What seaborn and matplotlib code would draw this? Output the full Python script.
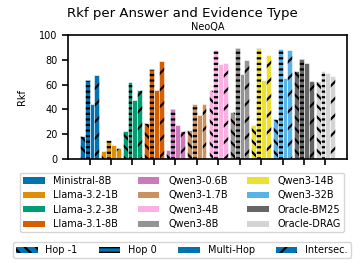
import matplotlib
matplotlib.use('Agg')
import matplotlib.pyplot as plt
import seaborn as sns
import pandas as pd
from matplotlib.patches import Patch
from matplotlib.colors import to_rgba

models = ['Ministral-8B', 'Llama-3.2-1B', 'Llama-3.2-3B', 'Llama-3.1-8B',
          'Qwen3-0.6B', 'Qwen3-1.7B', 'Qwen3-4B', 'Qwen3-8B',
          'Qwen3-14B', 'Qwen3-32B', 'Oracle-BM25', 'Oracle-DRAG']
colors = ['#0173b2', '#de8f05', '#029e73', '#d55e00', '#cc78bc', '#ca9161',
          '#fbafe4', '#949494', '#ece133', '#56b4e9', '#666666', '#d4d4d4']
types = ['Hop -1', 'Hop 0', 'Multi-Hop', 'Intersec.']
hatches = ['\\\\\\', '---', '', '//']

hop_m1 = [18.9, 6.5, 22.9, 29.4, 7.5, 23.7, 56.0, 37.7, 27.8, 32.6, 71.4, 62.8]
hop_0 = [63.6, 15.6, 62.3, 72.8, 40.4, 44.7, 87.9, 89.5, 89.8, 88.4, 80.9, 70.9]
multi = [44.7, 11.6, 47.2, 55.3, 27.0, 35.8, 76.8, 68.2, 63.6, 65.0, 77.6, 69.0]
inter = [67.4, 8.9, 55.8, 79.2, 22.9, 44.7, 77.4, 79.5, 84.1, 87.6, 63.3, 66.8]

rows = []
for t, vals in zip(types, [hop_m1, hop_0, multi, inter]):
    for m, v in zip(models, vals):
        rows.append({'model': m, 'type': t, 'Rkf': v})
df = pd.DataFrame(rows)

plt.rcParams['hatch.linewidth'] = 1.6
plt.rcParams['font.size'] = 7

fig = plt.figure(figsize=(3.64, 2.64), dpi=100)
ax = fig.add_axes([0.187, 0.398, 0.766, 0.469])

sns.barplot(data=df, x='model', y='Rkf', hue='type', order=models,
            hue_order=types, width=0.9, legend=False, ax=ax, errorbar=None)

for c, h in zip(ax.containers, hatches):
    for bar, col in zip(c, colors):
        bar.set_facecolor(col)
        bar.set_edgecolor('white')
        bar.set_linewidth(0.4)
        bar._hatch_color = to_rgba('black')
        bar.set_hatch(h)

ax.set_ylim(0, 100)
ax.set_xlim(-1, 12)
ax.set_xticklabels([])
ax.set_xlabel('')
ax.set_ylabel('Rkf', fontsize=7, labelpad=9)
ax.tick_params(labelsize=7, length=4, width=1.2)
for s in ax.spines.values():
    s.set_linewidth(1.2)
ax.set_title('NeoQA', fontsize=7, pad=4)
fig.suptitle('Rkf per Answer and Evidence Type', fontsize=9.5, y=0.975)

h1 = [Patch(facecolor=c, label=m) for m, c in zip(models, colors)]
leg1 = fig.legend(handles=h1, ncol=3, loc='upper center',
                  bbox_to_anchor=(0.5, 0.365), fontsize=7, handlelength=2.2,
                  handleheight=0.6, labelspacing=0.45, columnspacing=2.0,
                  borderpad=0.35, handletextpad=0.9)

h2 = []
for t, h in zip(types, hatches):
    p = Patch(facecolor='#0173b2', edgecolor='black', linewidth=0, hatch=h, label=t)
    h2.append(p)
leg2 = fig.legend(handles=h2, ncol=4, loc='upper center',
                  bbox_to_anchor=(0.5, 0.1), fontsize=7, handlelength=2.2,
                  handleheight=0.6, columnspacing=2.2, borderpad=0.3,
                  handletextpad=0.8)

fig.savefig('out.png', dpi=100)
